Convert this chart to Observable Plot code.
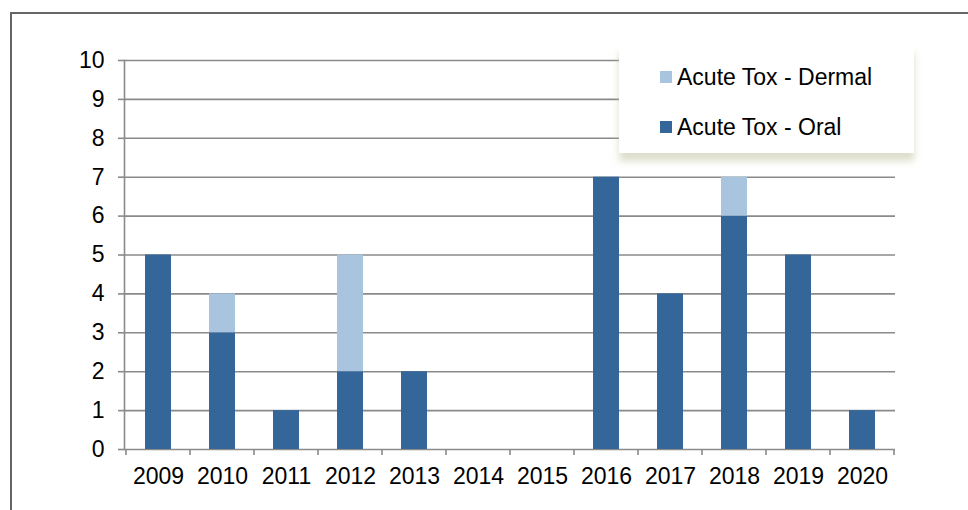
<!DOCTYPE html>
<html><head><meta charset="utf-8">
<script src="https://cdn.jsdelivr.net/npm/d3@7"></script>
<script src="https://cdn.jsdelivr.net/npm/@observablehq/plot@0.6"></script>
<style>
body{margin:0;background:#fff;}
#wrap{position:relative;width:968px;height:510px;overflow:hidden;font-family:"Liberation Sans",Arial,sans-serif;}
#frame{position:absolute;left:10px;top:12px;width:1000px;height:600px;border-left:2px solid #666;border-top:2px solid #666;}
#chart{position:absolute;left:0;top:0;}
#legend{position:absolute;left:619px;top:44px;width:295px;height:109px;background:#fff;box-shadow:0 8px 7px rgba(200,200,170,0.6);}
.item{position:absolute;left:41px;font-size:23px;line-height:24px;color:#000;display:flex;align-items:center;white-space:nowrap;}
.sw{width:12px;height:12px;margin-right:5px;display:inline-block;}
</style></head>
<body>
<div id="wrap">
  <div id="frame"></div>
  <div id="chart"></div>
  <div id="legend"></div>
</div>
<script>
const years = ["2009","2010","2011","2012","2013","2014","2015","2016","2017","2018","2019","2020"];
const oral   = [5,3,1,2,2,0,0,7,4,6,5,1];
const dermal = [0,1,0,3,0,0,0,0,0,1,0,0];
const series = ["Acute Tox - Oral","Acute Tox - Dermal"];
const colors = ["#356699","#a9c4de"];
const yTicks = [0,1,2,3,4,5,6,7,8,9,10];
const legendOrder = ["Acute Tox - Dermal","Acute Tox - Oral"];

const data = years.flatMap((y,i)=>[
  {year:y, series:series[0], value:oral[i]},
  {year:y, series:series[1], value:dermal[i]}
]);

const gridColor = "#8a8a8a";
const chart = Plot.plot({
  width:968, height:510,
  marginLeft:124, marginRight:73, marginTop:60, marginBottom:61,
  style:{fontFamily:"'Liberation Sans', Arial, sans-serif", fontSize:"23px", color:"#000", background:"transparent"},
  x:{domain:years, paddingInner:0.6, paddingOuter:0.3},
  y:{domain:[0,10]},
  color:{domain:series, range:colors},
  marks:[
    Plot.gridY(yTicks,{stroke:gridColor, strokeOpacity:1, strokeWidth:1.6}),
    Plot.barY(data,{x:"year", y:"value", fill:"series"}),
    Plot.frame({anchor:"left", stroke:gridColor, strokeWidth:1.6}),
    Plot.axisY(yTicks,{tickSize:6, tickPadding:14, stroke:gridColor, strokeWidth:1.6, strokeOpacity:1, fill:"#000", label:null, fontSize:23}),
    Plot.axisX({tickSize:0, tickPadding:18, label:null, fontSize:23, fill:"#000"})
  ]
});
document.getElementById("chart").appendChild(chart);

// category boundary tick marks on the x axis
const xs = chart.scale("x");
const step = xs.step ?? xs.bandwidth/0.4;
const gap = step - xs.bandwidth;
const bounds = years.map(y=>xs.apply(y) - gap/2)
  .concat([xs.apply(years[years.length-1]) + xs.bandwidth + gap/2]);
const y0 = chart.scale("y").apply(0);
d3.select(chart).append("g").selectAll("line").data(bounds).join("line")
  .attr("x1",d=>d).attr("x2",d=>d).attr("y1",y0).attr("y2",y0+6)
  .attr("stroke",gridColor).attr("stroke-width",1.6);

// legend
const leg = document.getElementById("legend");
const tops = [21, 71];
legendOrder.forEach((s,i)=>{
  const it = document.createElement("div");
  it.className = "item";
  it.style.top = tops[i] + "px";
  const sw = document.createElement("span");
  sw.className = "sw";
  sw.style.background = colors[series.indexOf(s)];
  it.appendChild(sw);
  it.appendChild(document.createTextNode(s));
  leg.appendChild(it);
});
</script>
</body></html>
